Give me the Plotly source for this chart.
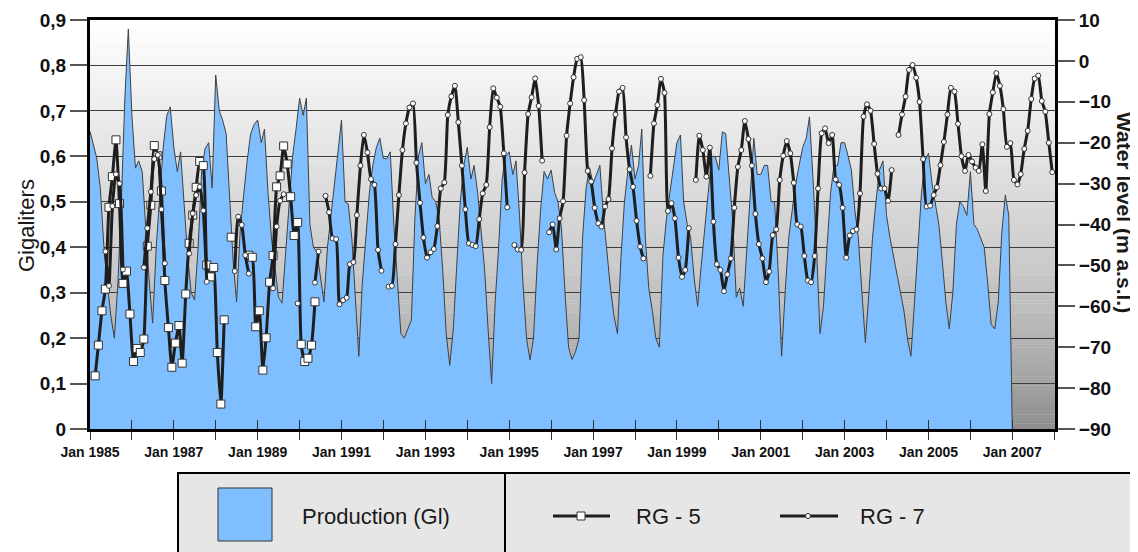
import plotly.graph_objects as go

N = None
FONT = "Liberation Sans, Arial, sans-serif"

# ---------------- data (monthly, Jan..Dec) ----------------
prod_1985 = [0.655, 0.62, 0.596, 0.53, 0.405, 0.32, 0.25, 0.20, 0.32, 0.50, 0.73, 0.88]
prod_1986 = [0.69, 0.574, 0.59, 0.566, 0.434, 0.324, 0.233, 0.40, 0.515, 0.62, 0.69, 0.709]
prod_1987 = [0.62, 0.566, 0.61, 0.493, 0.383, 0.30, 0.284, 0.40, 0.57, 0.617, 0.63, 0.53]
prod_1988 = [0.779, 0.70, 0.68, 0.65, 0.50, 0.37, 0.28, 0.434, 0.515, 0.59, 0.65, 0.67]
prod_1989 = [0.68, 0.63, 0.66, 0.52, 0.42, 0.35, 0.29, 0.277, 0.38, 0.50, 0.60, 0.66]
prod_1990 = [0.728, 0.69, 0.728, 0.45, 0.40, 0.39, 0.33, 0.28, 0.40, 0.47, 0.53, 0.60]
prod_1991 = [0.68, 0.50, 0.495, 0.42, 0.28, 0.16, 0.32, 0.42, 0.52, 0.58, 0.62, 0.64]
prod_1992 = [0.595, 0.595, 0.61, 0.45, 0.32, 0.21, 0.20, 0.22, 0.24, 0.46, 0.60, 0.63]
prod_1993 = [0.54, 0.56, 0.51, 0.50, 0.46, 0.35, 0.21, 0.14, 0.22, 0.36, 0.50, 0.58]
prod_1994 = [0.62, 0.55, 0.58, 0.52, 0.43, 0.35, 0.22, 0.10, 0.28, 0.40, 0.55, 0.60]
prod_1995 = [0.61, 0.56, 0.59, 0.47, 0.32, 0.20, 0.152, 0.20, 0.36, 0.48, 0.567, 0.55]
prod_1996 = [0.57, 0.52, 0.50, 0.44, 0.30, 0.18, 0.153, 0.17, 0.20, 0.42, 0.53, 0.575]
prod_1997 = [0.54, 0.56, 0.58, 0.47, 0.39, 0.31, 0.25, 0.21, 0.38, 0.50, 0.57, 0.625]
prod_1998 = [0.55, 0.58, 0.66, 0.42, 0.31, 0.26, 0.20, 0.18, 0.38, 0.46, 0.52, 0.57]
prod_1999 = [0.63, 0.647, 0.50, 0.45, 0.42, 0.33, 0.27, 0.36, 0.45, 0.52, 0.60, 0.60]
prod_2000 = [0.57, 0.654, 0.65, 0.55, 0.46, 0.29, 0.31, 0.27, 0.40, 0.52, 0.64, 0.56]
prod_2001 = [0.56, 0.58, 0.58, 0.50, 0.50, 0.35, 0.16, 0.30, 0.42, 0.48, 0.54, 0.58]
prod_2002 = [0.62, 0.64, 0.687, 0.55, 0.40, 0.21, 0.27, 0.40, 0.52, 0.58, 0.58, 0.63]
prod_2003 = [0.63, 0.60, 0.57, 0.48, 0.42, 0.30, 0.19, 0.30, 0.42, 0.50, 0.57, 0.59]
prod_2004 = [0.47, 0.42, 0.38, 0.34, 0.30, 0.26, 0.20, 0.16, 0.28, 0.39, 0.52, 0.59]
prod_2005 = [0.607, 0.54, 0.50, 0.45, 0.37, 0.28, 0.22, 0.30, 0.45, 0.50, 0.49, 0.47]
prod_2006 = [0.566, 0.45, 0.44, 0.42, 0.40, 0.32, 0.23, 0.22, 0.28, 0.43, 0.515, 0.47]
prod_2007 = [0.0]

rg5_1985 = [N, -77.0, -69.5, -61.1, -55.8, -35.8, -28.3, -19.3, -34.9, -54.4, -51.4, -61.9]
rg5_1986 = [-73.5, -70.3, -71.3, -68.0, -45.3, -35.3, -20.7, -23.2, -31.8, -53.7, -65.2, -74.9]
rg5_1987 = [-69.0, -64.7, -73.9, -57.0, -44.6, -37.7, -30.9, -24.6, -25.6, -49.9, -52.8, -50.5]
rg5_1988 = [-71.3, -83.9, -63.3, N, -43.1, N, N, N, N, -47.5, -48.0, -65.0]
rg5_1989 = [-61.1, -75.6, -67.7, -54.1, -47.6, -30.8, -28.1, -20.8, -25.2, -33.2, -42.7, -39.5]
rg5_1990 = [-69.3, -73.5, -72.7, -69.5, -58.9]

rg7_1985 = [N, N, N, N, -46.6, -55.0, -35.5, -27.7, -30.0, -51.0, N, N]
rg7_1986 = [N, N, N, -50.5, -40.9, -32.0, -24.0, -23.0, -36.3, -49.5, N, N]
rg7_1987 = [N, N, N, N, -47.1, -37.3, -32.8, -30.8, -36.6, -54.0, N, N]
rg7_1988 = [N, N, N, N, N, -51.4, -38.1, -40.1, -47.5, -52.0, N, N]
rg7_1989 = [N, N, N, N, -55.6, -40.5, -34.2, -32.6, N, N, N, -59.3]
rg7_1990 = [N, N, N, N, -54.2, -46.6, N, -33.0, -37.0, -43.4, -43.6, -59.5]
rg7_1991 = [-58.5, -57.9, -49.7, -49.2, -37.7, -25.6, -18.1, -22.4, -28.9, -30.3, -46.2, -51.3]
rg7_1992 = [N, -55.2, -55.0, -44.8, -32.8, -21.8, -15.3, -11.4, -10.4, -24.9, -34.7, -43.2]
rg7_1993 = [-48.1, -46.8, -46.0, -40.4, -31.2, -29.7, -13.2, -8.7, -6.1, -15.0, -25.6, -36.3]
rg7_1994 = [-44.6, -45.0, -45.3, -38.7, -32.4, -30.3, -16.2, -6.7, -9.0, -11.2, -22.6, -35.8]
rg7_1995 = [N, -45.0, -46.1, -46.2, -27.3, -13.0, -8.9, -4.3, -11.0, -24.4, N, -41.9]
rg7_1996 = [-40.0, -46.1, -38.5, -34.3, -18.3, -10.4, -4.0, 0.5, 0.9, -9.6, -26.9, -29.5]
rg7_1997 = [-35.9, -39.7, -40.5, -35.6, -33.8, -21.4, -13.1, -7.5, -6.6, -18.7, -26.5, -30.8]
rg7_1998 = [-39.1, -45.4, -48.3, N, -28.1, -15.3, -10.8, -4.4, -7.8, -36.7, -34.8, -38.5]
rg7_1999 = [-48.1, -52.8, -51.1, -40.9, N, -29.1, -18.3, -21.8, -28.3, -21.2, -39.3, -49.7]
rg7_2000 = [-51.1, -56.3, -52.2, -48.3, -35.9, -25.9, -21.8, -14.7, -19.1, -25.6, -37.4, -44.8]
rg7_2001 = [-48.3, -54.1, -51.5, -42.6, -41.2, -29.1, -23.2, -19.6, -22.6, -29.8, -40.0, -40.5]
rg7_2002 = [-47.7, -53.7, -54.1, -47.7, -31.2, -17.7, -16.5, -20.1, -18.1, -29.0, -30.3, -35.9]
rg7_2003 = [-48.1, -42.7, -41.6, -41.2, -32.4, -13.6, -10.6, -12.2, -20.3, -27.6, -31.2, -31.2]
rg7_2004 = [-34.2, -26.7, N, -18.1, -13.1, -8.7, -2.2, -1.0, -4.1, -10.0, -24.0, -35.6]
rg7_2005 = [-35.4, -32.8, -30.9, -25.5, -19.8, -13.1, -6.6, -7.5, -15.4, -23.3, -26.9, -23.0]
rg7_2006 = [-24.6, -26.1, -26.9, -20.4, -31.8, -13.0, -7.7, -3.0, -6.1, -11.8, -21.0, -20.1]
rg7_2007 = [-29.1, -30.2, -27.7, -21.5, -17.1, -9.3, -4.3, -3.6, -9.8, -12.4, -20.0, -27.2]

tick_years = list(range(1985, 2009))
tick_labels = [f"Jan {y}" if (y - 1985) % 2 == 0 else "" for y in tick_years]

# ---------------- assemble ----------------
production = sum([prod_1985, prod_1986, prod_1987, prod_1988, prod_1989, prod_1990,
                  prod_1991, prod_1992, prod_1993, prod_1994, prod_1995, prod_1996,
                  prod_1997, prod_1998, prod_1999, prod_2000, prod_2001, prod_2002,
                  prod_2003, prod_2004, prod_2005, prod_2006, prod_2007], [])
rg5 = sum([rg5_1985, rg5_1986, rg5_1987, rg5_1988, rg5_1989, rg5_1990], [])
rg7 = sum([rg7_1985, rg7_1986, rg7_1987, rg7_1988, rg7_1989, rg7_1990, rg7_1991,
           rg7_1992, rg7_1993, rg7_1994, rg7_1995, rg7_1996, rg7_1997, rg7_1998,
           rg7_1999, rg7_2000, rg7_2001, rg7_2002, rg7_2003, rg7_2004, rg7_2005,
           rg7_2006, rg7_2007], [])


def month_dates(n, day):
    return [f"{1985 + i // 12}-{i % 12 + 1:02d}-{day:02d}" for i in range(n)]


prod_dates = month_dates(len(production), 1)
rg5_dates = month_dates(len(rg5), 15)
rg7_dates = month_dates(len(rg7), 15)
tick_vals = [f"{y}-01-01" for y in tick_years]
x_range = ["1985-01-01", "2008-01-08"]

BLUE = "#80bfff"
LINE = "#1e1e1e"

fig = go.Figure()
fig.add_trace(go.Scatter(
    x=prod_dates, y=production, name="Production (Gl)", mode="lines",
    fill="tozeroy", fillcolor=BLUE, line=dict(color="#404040", width=1),
    xaxis="x", yaxis="y", hoverinfo="skip"))
fig.add_trace(go.Scatter(
    x=rg5_dates, y=rg5, name="RG - 5", mode="lines+markers", connectgaps=False,
    line=dict(color=LINE, width=3, shape="spline", smoothing=0.5),
    marker=dict(symbol="square", size=8, color="white", line=dict(color="#333333", width=1)),
    xaxis="x2", yaxis="y2"))
fig.add_trace(go.Scatter(
    x=rg7_dates, y=rg7, name="RG - 7", mode="lines+markers", connectgaps=False,
    line=dict(color=LINE, width=3, shape="spline", smoothing=0.5),
    marker=dict(symbol="circle", size=5, color="white", line=dict(color="#333333", width=1)),
    xaxis="x2", yaxis="y2"))

# ---------------- background gradient (styling) ----------------
stops = [(0.0, 255), (0.3, 230), (0.6, 202), (0.8, 177), (1.0, 142)]


def gray_at(t):
    for (t0, g0), (t1, g1) in zip(stops[:-1], stops[1:]):
        if t <= t1:
            return g0 + (g1 - g0) * (t - t0) / (t1 - t0)
    return stops[-1][1]


shapes = []
NB = 140
for k in range(NB):
    t = (k + 0.5) / NB
    g = int(round(gray_at(t)))
    shapes.append(dict(type="rect", xref="paper", yref="paper", x0=0, x1=1,
                       y0=1 - (k + 1) / NB - 0.001, y1=1 - k / NB,
                       fillcolor=f"rgb({g},{g},{g})", line=dict(width=0), layer="below"))

# ---------------- manual legend (styling) ----------------
def px_x(px):
    return (px - 90) / 965


def px_y(py):
    return (429 - py) / 409


leg_y = px_y(516)
shapes += [
    dict(type="rect", xref="paper", yref="paper", x0=px_x(178), x1=px_x(1150),
         y0=px_y(570), y1=px_y(473), fillcolor="#e6e6e6", line=dict(color="black", width=2)),
    dict(type="line", xref="paper", yref="paper", x0=px_x(505), x1=px_x(505),
         y0=px_y(570), y1=px_y(473), line=dict(color="black", width=2)),
    dict(type="rect", xref="paper", yref="paper", x0=px_x(218), x1=px_x(272),
         y0=px_y(541), y1=px_y(488), fillcolor=BLUE, line=dict(color="#333333", width=1)),
    dict(type="line", xref="paper", yref="paper", x0=px_x(553), x1=px_x(610),
         y0=leg_y, y1=leg_y, line=dict(color=LINE, width=3)),
    dict(type="rect", xref="paper", yref="paper", xsizemode="pixel", ysizemode="pixel",
         xanchor=px_x(581), yanchor=leg_y, x0=-4, x1=4, y0=-4, y1=4,
         fillcolor="white", line=dict(color="#333333", width=1)),
    dict(type="line", xref="paper", yref="paper", x0=px_x(780), x1=px_x(838),
         y0=leg_y, y1=leg_y, line=dict(color=LINE, width=3)),
    dict(type="circle", xref="paper", yref="paper", xsizemode="pixel", ysizemode="pixel",
         xanchor=px_x(808), yanchor=leg_y, x0=-2.5, x1=2.5, y0=-2.5, y1=2.5,
         fillcolor="white", line=dict(color="#333333", width=1)),
]

annotations = [
    dict(text="Gigaliters", xref="paper", yref="paper", x=px_x(26), y=px_y(226),
         textangle=-90, showarrow=False, font=dict(family=FONT, size=22, color="#1a1a1a"),
         xanchor="center", yanchor="middle"),
    dict(text="Water level (m a.s.l.)", xref="paper", yref="paper", x=px_x(1125),
         y=px_y(212), textangle=90, showarrow=False,
         font=dict(family=FONT, size=21, color="#1a1a1a", weight="bold"),
         xanchor="center", yanchor="middle"),
    dict(text="Production (Gl)", xref="paper", yref="paper", x=px_x(300), y=leg_y,
         showarrow=False, xanchor="left", yanchor="middle",
         font=dict(family=FONT, size=22, color="#1a1a1a")),
    dict(text="RG - 5", xref="paper", yref="paper", x=px_x(634), y=leg_y,
         showarrow=False, xanchor="left", yanchor="middle",
         font=dict(family=FONT, size=22, color="#1a1a1a")),
    dict(text="RG - 7", xref="paper", yref="paper", x=px_x(858), y=leg_y,
         showarrow=False, xanchor="left", yanchor="middle",
         font=dict(family=FONT, size=22, color="#1a1a1a")),
]

tickfont_y = dict(family=FONT, size=19, color="#111111", weight="bold")

# the page body adds an 8px offset, so the figure is drawn 8px smaller and
# margins are shifted to keep the plot area where the reference has it
fig.update_layout(
    width=1130, height=544, autosize=False,
    margin=dict(l=82, r=83, t=12, b=123, pad=0),
    paper_bgcolor="white", plot_bgcolor="white",
    separators=", ",
    showlegend=False,
    font=dict(family=FONT, color="#111111"),
    shapes=shapes, annotations=annotations,
    xaxis=dict(type="date", range=x_range, tickmode="array", tickvals=tick_vals,
               ticktext=tick_labels, ticks="outside", ticklen=8, tickwidth=1,
               tickcolor="#333333", showgrid=False, zeroline=False,
               showline=True, linecolor="black", linewidth=3, mirror=True,
               tickfont=dict(family=FONT, size=14, color="#111111", weight="bold"),
               tickangle=0, automargin=False),
    xaxis2=dict(type="date", range=x_range, overlaying="x", anchor="y", side="bottom",
                tickmode="array", tickvals=tick_vals, ticks="inside", ticklen=9,
                tickwidth=1, tickcolor="#333333", showticklabels=False,
                showgrid=False, zeroline=False, showline=False, automargin=False),
    yaxis=dict(range=[0, 0.9], dtick=0.1, tick0=0, ticks="outside", ticklen=17,
               tickwidth=1.5, tickcolor="#555555", showgrid=True,
               gridcolor="#3c3c3c", gridwidth=1, zeroline=False,
               showline=True, linecolor="black", linewidth=3, mirror=True,
               tickfont=tickfont_y, automargin=False),
    yaxis2=dict(range=[-90, 10], dtick=10, tick0=0, overlaying="y", side="right",
                anchor="x2", ticks="outside", ticklen=17, tickwidth=1.5,
                tickcolor="#555555", showgrid=False, zeroline=False,
                showline=True, linecolor="black", linewidth=3,
                tickfont=tickfont_y, automargin=False),
)

fig.write_html("out.html")
